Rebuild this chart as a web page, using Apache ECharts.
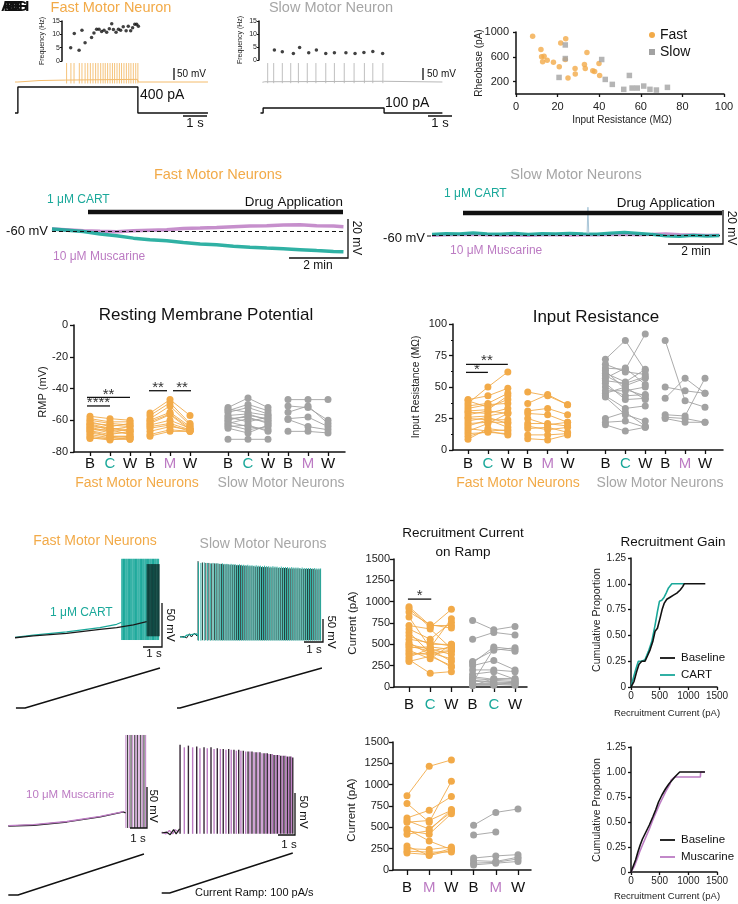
<!DOCTYPE html>
<html><head><meta charset="utf-8">
<script src="https://cdn.jsdelivr.net/npm/echarts@6/dist/echarts.min.js"></script>
<style>html,body{margin:0;padding:0;background:#fff}#c{width:738px;height:904px}</style>
</head><body><div id="c"></div>
<script>
// ================= DATA =================
// Step responses (time s, mV / pA / Hz)
const fastStepSpikeT = [2.15,2.33,2.46,2.68,2.79,2.92,3.03,3.14,3.25,3.36,3.46,3.57,3.67,3.76,3.86,3.96,4.06,4.15,4.25,4.35,4.44,4.54,4.64,4.74,4.83,4.93,5.03,5.12];
const fastStepBaseT = [0,0.12,0.2,1.0,2.1,5.1,5.14,8.04];
const fastStepBaseV = [-70,-70,-66,-64,-62,-59,-70,-70];
const fastStepCurT = [0,0.12,0.12,5.12,5.12,8.04];
const fastStepCurI = [0,0,400,400,0,0];
const fastFreqT = [2.32,2.47,2.67,2.79,2.92,3.19,3.29,3.40,3.50,3.61,3.71,3.82,3.93,4.03,4.10,4.21,4.31,4.40,4.51,4.63,4.72,4.82,4.90,4.99,5.07,5.14];
const fastFreqHz = [5,10.3,4,11.5,6.8,8.8,10.5,11.9,11.9,11.1,11.5,10.8,12.1,14,11.8,10.8,11.9,11.5,12.8,11.3,13,11.3,12.5,13.8,13.8,13];

const slowStepSpikeT = [0.22,0.47,0.83,1.18,1.50,1.87,2.23,2.64,3.00,3.41,3.82,4.25,4.60,5.02];
const slowStepBaseT = [0,0.03,0.1,5.05,5.1,7.5];
const slowStepBaseV = [-71,-71,-69,-67,-71,-70];
const slowStepCurT = [-0.08,0.03,0.03,5.07,5.07,7.5];
const slowStepCurI = [0,0,100,100,0,0];
const slowFreqT = [0.50,0.83,1.29,1.55,1.93,2.25,2.64,3.00,3.48,3.86,4.23,4.60,5.01];
const slowFreqHz = [3.8,3.2,2.5,4.8,2.8,3.8,2.5,2.8,2.8,2.5,2.9,3.3,2.5];

// Rheobase vs input resistance
const fastIR = [8,12,12.3,13.5,12.8,15,18,20.8,21.5,23.9,23.7,25,28.4,28.5,32.9,33.3,34.1,36.9,37.8,39.9,40.2];
const fastRheo = [930,717,600,610,519,545,513,439,823,893,556,257,412,321,476,412,668,374,364,492,299];
const slowIR = [20.7,23.7,23.7,41.2,42.9,46.3,51.8,54.5,55.8,58.3,61.4,64.4,67.5,72.8];
const slowRheo = [267,791,572,556,235,155,75,299,96,96,128,75,64,107];

// Drug application traces (min, mV)
const drugFastT = [0,1.06,1.63,2.19,2.76,3.32,3.89,4.45,5.02,5.58,6.15,6.71,7.28,7.84,8.41,8.97,9.54,9.88];
const drugFastCartV = [-58.6,-59.9,-61.2,-62.1,-63.3,-64.1,-64.6,-65.5,-66.3,-66.7,-67.5,-68.0,-68.4,-68.7,-69.2,-69.7,-70.1,-70.3];
const drugFastMuscV = [-58.6,-59.5,-59.8,-60.0,-59.5,-59.2,-59.0,-58.3,-58.1,-57.8,-57.4,-57.1,-56.9,-56.6,-56.4,-56.9,-57.1,-57.4];
const drugSlowT = [0,0.5,1,1.5,2,2.5,3,3.5,4,4.5,5,5.5,6,6.5,7,7.5,8,8.5,9,9.5,10,10.45];
const drugSlowCartV = [-59.5,-59,-59.2,-58.6,-59.1,-59.3,-58.9,-59.4,-59,-59.2,-58.8,-59.1,-59.3,-58.7,-58.3,-58.9,-59.5,-60.4,-60.6,-60.1,-60.5,-60.2];
const drugSlowMuscV = [-60,-59.7,-59.6,-59.4,-59.8,-59.9,-59.7,-60,-59.8,-59.6,-59.9,-59.7,-59.8,-59.6,-59.4,-59.7,-59.5,-59.2,-59.6,-59.8,-60,-59.9];
const drugSlowArtifactT = [5.64,5.67,5.70];
const drugSlowArtifactV = [-59,-43.5,-59];

// Ramp responses (s, mV) and ramp currents (s, pA)
const rampFastCartBlackT = [0,0.96,2.72,4.47,5.35,6.23,6.93];
const rampFastCartBlackV = [-71.7,-69.7,-66.7,-62.1,-60.3,-57.2,-53.5];
const rampFastCartTealT = [0,0.96,2.72,4.47,5.35,5.61];
const rampFastCartTealV = [-71.2,-68.8,-65.0,-60.3,-56.4,-54.1];
const rampFastCartTealSpikes = [5.62,5.67,5.71,5.76,5.80,5.85,5.89,5.94,5.98,6.03,6.07,6.12,6.16,6.21,6.25,6.30,6.34,6.39,6.43,6.48,6.52,6.57,6.61,6.66,6.70,6.75,6.79,6.84,6.88,6.93,6.97,7.02,7.06,7.11,7.15,7.20,7.24,7.29,7.33,7.38,7.42,7.47,7.51,7.56];
const rampFastCartBlackSpikes = [6.95,6.99,7.03,7.07,7.11,7.15,7.19,7.23,7.27,7.31,7.35,7.39,7.43,7.47,7.51,7.55,7.59];
const rampFastCartI = [[0.05,0],[0.53,0],[7.63,710]];

const rampSlowCartTealT = [0,0.2,0.35,0.45,0.6,0.7,0.85,0.95];
const rampSlowCartTealV = [-64,-66,-61,-65,-60,-64,-58,-62];
const rampSlowCartBlackT = [0,0.2,0.35,0.5,0.6,0.75,0.9];
const rampSlowCartBlackV = [-65,-64,-67,-58,-65,-57,-63];
const rampSlowCartTealSpikes = [0.97,1.10,1.28,1.45,1.60,1.74,1.88,2.00,2.12,2.24,2.36,2.47,2.58,2.69,2.80,2.91,3.02,3.13,3.24,3.35,3.46,3.57,3.68,3.79,3.90,4.01,4.12,4.23,4.34,4.45,4.56,4.67,4.78,4.89,5.00,5.11,5.22,5.33,5.44,5.55,5.66,5.77,5.88,5.99,6.10,6.21,6.32,6.43,6.54,6.65,6.76,6.87,6.98,7.09,7.20,7.31,7.40];
const rampSlowCartTealPeaks = [97,96,97,96,95,96,95,95,94,95,94,94,93,94,93,93,92,93,92,92,91,92,91,91,90,91,90,90,89,90,89,89,88,89,88,88,87,88,87,87,87,86,87,86,86,86,85,86,85,85,85,85,84,85,84,84,84];
const rampSlowCartBlackSpikes = [0.95,1.18,1.36,1.52,1.67,1.81,1.94,2.06,2.18,2.30,2.42,2.53,2.64,2.75,2.86,2.97,3.08,3.19,3.30,3.41,3.52,3.63,3.74,3.85,3.96,4.07,4.18,4.29,4.40,4.51,4.62,4.73,4.84,4.95,5.06,5.17,5.28,5.39,5.50,5.61,5.72,5.83,5.94,6.05,6.16,6.27,6.38,6.49,6.60,6.71,6.82,6.93,7.04,7.15,7.26,7.37];
const rampSlowCartBlackPeaks = [100,97,96,96,95,95,95,94,94,93,93,93,92,92,92,91,91,91,90,90,90,89,89,89,88,88,88,87,87,87,87,86,86,86,86,85,85,85,85,85,84,84,84,84,84,84,83,83,83,83,83,83,83,82,82,82];
const rampSlowCartI = [[-0.16,0],[0,0],[7.47,747]];

const rampFastMuscBlackT = [0,1.49,3.45,5.41,6.78,6.9];
const rampFastMuscBlackV = [-72,-71.1,-67.1,-61,-54.9,-56];
const rampFastMuscPurpleT = [0,1.49,3.45,5.41,6.78];
const rampFastMuscPurpleV = [-71.5,-70.3,-66.5,-60.3,-54.5];
const rampFastMuscPurpleSpikes = [6.92,7.12,7.32,7.51,7.69,7.88,8.08];
const rampFastMuscBlackSpikes = [7.02,7.22,7.44,7.59,7.79,7.98];
const rampFastMuscI = [[0,0],[0.57,0],[7.98,741]];

const rampSlowMuscBlackT = [0,0.3,0.5,0.7,0.85,1.05];
const rampSlowMuscBlackV = [-65,-64,-67,-61,-66,-60];
const rampSlowMuscPurpleT = [0,0.25,0.45,0.65,0.8,1.0];
const rampSlowMuscPurpleV = [-64,-66,-62,-66,-61,-64];
const rampSlowMuscBlackSpikes = [1.08,1.57,2.06,2.49,2.90,3.27,3.62,3.94,4.25,4.53,4.80,5.08,5.31,5.55,5.78,6.02,6.21,6.41,6.61,6.80,7.00,7.19,7.39,7.55,7.71];
const rampSlowMuscBlackPeaks = [40,39,38,37,37,36,35,35,34,34,33,32,32,31,31,30,30,29,28,28,27,27,26,26,25];
const rampSlowMuscPurpleSpikes = [1.33,1.82,2.25,2.68,3.08,3.45,3.78,4.09,4.39,4.66,4.94,5.19,5.43,5.66,5.90,6.12,6.31,6.51,6.71,6.90,7.09,7.29,7.47,7.62];
const rampSlowMuscPurplePeaks = [37,37,36,36,35,35,34,34,33,33,32,32,31,31,30,30,29,29,28,28,27,27,26,26];
const rampSlowMuscI = [[0,0],[0.47,0],[7.71,724]];

// Paired cell data
const rmpFastCartB = [-57.5,-59,-60,-61,-62,-62.5,-63,-64,-64.5,-65,-66,-66.5,-67,-68,-69,-70,-71,-71.5];
const rmpFastCartC = [-59,-61,-62,-64,-63,-65,-66,-65,-67,-68,-66,-69,-70,-70,-71,-72,-72.5,-71];
const rmpFastCartW = [-60,-61,-63,-62,-64,-66,-64,-67,-66,-68,-69,-67,-70,-71,-70,-72,-71,-72];
const rmpFastMuscB = [-55.5,-57,-59,-60,-61,-62,-63,-64,-65,-67,-69,-70];
const rmpFastMuscM = [-47,-49,-51,-55,-56,-56.5,-60,-62,-63,-64,-66,-67];
const rmpFastMuscW = [-57,-62,-63,-64,-65,-66,-65,-66,-67,-66,-67,-67];
const rmpSlowCartB = [-52,-53,-54,-55,-57,-58,-59,-60,-61,-62,-63,-64,-65,-72];
const rmpSlowCartC = [-46,-55,-50,-52,-56,-61,-58,-57,-64,-59,-66,-63,-68,-72];
const rmpSlowCartW = [-52,-57,-54,-56,-60,-58,-62,-59,-66,-61,-64,-67,-63,-72];
const rmpSlowMuscB = [-47,-51,-55,-59,-59.5,-67];
const rmpSlowMuscM = [-47,-52,-51,-58,-64,-67];
const rmpSlowMuscW = [-47,-60,-62,-64,-66,-68];

const irFastCartB = [40,39,37,35,33,31,30,28,26,25,23,21,19,17,15,13,11,8.5];
const irFastCartC = [43,34,50,37,36,32,29,31,27,24,26,22,24,15,21,14,15,17];
const irFastCartW = [49,40,62,45,37,43,33,29,30,24,21,22,18,16,29,13,12,15];
const irFastMuscB = [46,37,31,29,25,21,19,17,12,9];
const irFastMuscM = [43,44,33,28,20,21,16,18,12,8];
const irFastMuscW = [36,36,28,22,22,19,18,14,13,12];
const irSlowCartB = [72,68,65,63,61,59,57,55,53,50,47,45,43,42,25,22,20];
const irSlowCartC = [87,62,64,48,54,51,65,53,40,43,47,50,33,28,30,23,15];
const irSlowCartW = [63,60,92,43,64,57,52,58,41,44,50,40,35,23,19,18,18];
const irSlowMuscB = [87,50,41,28,26,25];
const irSlowMuscM = [39,47,57,27,25,22];
const irSlowMuscW = [34,45,45,57,22,22];

const rcFastCartB = [940,920,880,820,720,680,640,600,560,520,500,480,460,430,400,380,350,320,300];
const rcFastCartC = [720,700,730,460,680,560,400,500,520,380,440,420,470,330,380,400,450,160,360];
const rcFastCartW = [720,910,690,800,450,760,430,500,480,420,300,470,440,500,230,330,380,180,250];
const rcSlowCartB = [780,560,300,280,250,200,150,120,100,80,70,50,40,30,20,15];
const rcSlowCartC = [670,640,430,470,310,200,180,90,80,60,50,450,40,30,20,100];
const rcSlowCartW = [710,610,460,440,200,180,90,80,60,50,40,420,30,20,60,100];
const rcFastMuscB = [870,780,610,580,560,480,460,420,280,250,220,200];
const rcFastMuscM = [1215,560,700,480,580,340,420,460,170,240,210,180];
const rcFastMuscW = [1290,1040,860,680,700,240,660,710,230,270,210,250];
const rcSlowMuscB = [525,410,140,110,80,60];
const rcSlowMuscM = [675,445,165,100,90,80];
const rcSlowMuscW = [715,null,180,150,130,100];

// Cumulative distributions (pA, proportion)
const gainCartBaseline = [[0,0],[53,0.055],[99,0.15],[140,0.22],[187,0.25],[245,0.25],[286,0.30],[333,0.36],[380,0.44],[420,0.54],[461,0.57],[508,0.67],[543,0.75],[578,0.81],[625,0.85],[683,0.87],[741,0.89],[800,0.91],[858,0.94],[905,0.975],[928,1],[1296,1]];
const gainCart = [[0,0],[41,0.087],[88,0.18],[128,0.25],[187,0.25],[245,0.265],[304,0.345],[362,0.44],[420,0.6],[461,0.73],[496,0.83],[537,0.84],[578,0.87],[613,0.91],[654,0.96],[712,1],[928,1]];
const gainMuscBaseline = [[0,0],[40,0.06],[80,0.12],[120,0.2],[160,0.27],[200,0.33],[260,0.4],[320,0.47],[380,0.55],[430,0.62],[480,0.7],[540,0.77],[600,0.83],[660,0.88],[720,0.92],[780,0.96],[850,1],[1290,1]];
const gainMusc = [[0,0],[60,0.06],[100,0.12],[150,0.2],[200,0.27],[260,0.35],[320,0.43],[380,0.52],[440,0.6],[500,0.68],[560,0.75],[620,0.82],[680,0.88],[700,0.92],[760,0.95],[1210,0.95],[1215,1],[1290,1]];

// Tick labels
const labRMP = ['B','C','W','B','M','W','B','C','W','B','M','W'];
const labRC1 = ['B','C','W','B','C','W'];
const labRC2 = ['B','M','W','B','M','W'];

// ================= LAYOUT / STYLE =================
const FONT = '"Liberation Sans", Arial, Helvetica, sans-serif';
const ORANGE = '#F2AA48', TEAL = '#1AA89A', PURPLE = '#BC7BC3', GRAY = '#A6A6A6', GRAYDOT = '#A2A2A2', INK = '#111111';
const POS12 = [0,1,2,3,4,5,6.9,7.9,8.9,9.9,10.9,11.9];
const POS6 = [0,1,2,3,4,5];

const grids = [], xAxes = [], yAxes = [], series = [], G = [];
const zip = (a, b) => a.map((v, i) => [v, b[i]]);

function addGrid(g) {
  grids.push({left: g.left, top: g.top, width: g.width, height: g.height, containLabel: false, outerBoundsMode: 'none'});
  return grids.length - 1;
}
function traceGeom(l, r, x0, pxX, t, b, refPx, refV, pxY) {
  return {left: l, top: t, width: r - l, height: b - t,
    xmin: (l - x0) / pxX, xmax: (r - x0) / pxX,
    ymax: refV + (refPx - t) / pxY, ymin: refV - (b - refPx) / pxY};
}
function hiddenPanel(g) {
  const i = addGrid(g);
  xAxes.push({type: 'value', gridIndex: i, min: g.xmin, max: g.xmax, show: false, splitLine: {show: false}});
  yAxes.push({type: 'value', gridIndex: i, min: g.ymin, max: g.ymax, show: false, splitLine: {show: false}});
  return i;
}
function lineS(p, data, color, width, extra) {
  return Object.assign({type: 'line', xAxisIndex: p, yAxisIndex: p, data: data, symbol: 'none',
    lineStyle: {color: color, width: width}, itemStyle: {color: color}, silent: true, animation: false}, extra || {});
}
function spikes(p, times, peak, trough, color, width, opacity) {
  const data = times.map((t, i) => [t, Array.isArray(peak) ? peak[i] : peak]);
  return {type: 'custom', xAxisIndex: p, yAxisIndex: p, data: data, silent: true, animation: false,
    renderItem: function (params, api) {
      const a = api.coord([api.value(0), trough]);
      const b = api.coord([api.value(0), api.value(1)]);
      return {type: 'line', shape: {x1: a[0], y1: a[1], x2: b[0], y2: b[1]},
        style: {stroke: color, lineWidth: width, opacity: opacity}};
    }};
}
const axLine = {show: true, onZero: false, lineStyle: {color: INK, width: 1.5}};
function valueAxis(i, opt) {
  const o = Object.assign({type: 'value', gridIndex: i, axisLine: axLine,
    axisTick: {show: true, length: 4, lineStyle: {color: INK, width: 1.3}},
    splitLine: {show: false}}, opt);
  o.axisLabel = Object.assign({color: '#222', fontSize: 11, margin: 5, fontFamily: FONT, formatter: v => String(v)}, opt.axisLabel || {});
  return o;
}
const richCat = {
  k: {color: INK, fontSize: 15, fontFamily: FONT},
  c: {color: TEAL, fontSize: 15, fontFamily: FONT},
  m: {color: PURPLE, fontSize: 15, fontFamily: FONT}
};
function catPanel(left, right, top, bottom, firstPx, lastPx, pos, labs, margin, tickLen, yOpt) {
  const unit = (lastPx - firstPx) / pos[pos.length - 1];
  const i = addGrid({left: left, top: top, width: right - left, height: bottom - top});
  xAxes.push({type: 'value', gridIndex: i, min: (left - firstPx) / unit, max: (right - firstPx) / unit,
    axisLine: axLine,
    axisTick: {show: true, customValues: pos, length: tickLen, lineStyle: {color: INK, width: 1.3}},
    axisLabel: {show: true, customValues: pos, margin: margin, rich: richCat,
      formatter: function (v) {
        let best = 0, bd = 1e9;
        pos.forEach((p, j) => { const d = Math.abs(p - v); if (d < bd) { bd = d; best = j; } });
        const l = labs[best];
        return '{' + (l === 'C' ? 'c' : (l === 'M' ? 'm' : 'k')) + '|' + l + '}';
      }},
    splitLine: {show: false}});
  yAxes.push(valueAxis(i, yOpt));
  return i;
}
function paired(p, positions, arrays, color) {
  const n = arrays[0].length;
  for (let c = 0; c < n; c++) {
    const pts = [];
    arrays.forEach((arr, k) => { if (arr[c] != null) pts.push([positions[k], arr[c]]); });
    series.push({type: 'line', xAxisIndex: p, yAxisIndex: p, data: pts, symbol: 'circle', symbolSize: 7,
      showSymbol: true, itemStyle: {color: color}, lineStyle: {color: color, width: 0.9},
      silent: true, animation: false, z: 3});
  }
}
function sigBars(p, ann, size) {
  series.push({type: 'custom', xAxisIndex: p, yAxisIndex: p, silent: true, animation: false, z: 6,
    data: ann.map(a => [a[0], a[2]]),
    renderItem: function (params, api) {
      const a = ann[params.dataIndex];
      const p1 = api.coord([a[0], a[2]]), p2 = api.coord([a[1], a[2]]);
      return {type: 'group', children: [
        {type: 'line', shape: {x1: p1[0], y1: p1[1], x2: p2[0], y2: p2[1]}, style: {stroke: INK, lineWidth: 1.3}},
        {type: 'text', x: (p1[0] + p2[0]) / 2, y: p1[1] - 3,
          style: {text: a[3], fontSize: size, fontFamily: FONT, fill: '#333', align: 'center', verticalAlign: 'middle'}}
      ]};
    }});
}
function txt(x, y, text, size, color, align, vAlign, rot, weight) {
  G.push({type: 'text', x: x, y: y, rotation: rot || 0, silent: true, z: 100,
    style: {text: text, fontSize: size, fontFamily: FONT, fill: color || INK, align: align || 'left',
      verticalAlign: vAlign || 'middle', fontWeight: weight || 'normal'}});
}
function seg(points, width, color) {
  G.push({type: 'polyline', shape: {points: points}, silent: true, z: 100,
    style: {stroke: color || INK, lineWidth: width || 1.3, fill: null}});
}
const ROT_DOWN = -Math.PI / 2, ROT_UP = Math.PI / 2;

// ================= PANELS =================
// --- Fast step ---
const pFS = hiddenPanel(traceGeom(15, 210, 15, 24, 56, 88, 82, -70, 0.24));
series.push(lineS(pFS, zip(fastStepBaseT, fastStepBaseV), '#F4BC6C', 1));
series.push(spikes(pFS, fastStepSpikeT, 9, -76, '#F4BC6C', 0.9, 1));
const pFSI = hiddenPanel(traceGeom(15, 210, 15, 24, 83, 117, 113, 0, 0.065));
series.push(lineS(pFSI, zip(fastStepCurT, fastStepCurI), INK, 1.4));
const gFF = traceGeom(62, 140, 15, 24, 21, 61, 61, 0, 40 / 15);
const pFF = addGrid(gFF);
xAxes.push({type: 'value', gridIndex: pFF, min: gFF.xmin, max: gFF.xmax, show: false});
yAxes.push(valueAxis(pFF, {min: 0, max: 15, interval: 5, axisTick: {show: true, length: 2, lineStyle: {color: INK, width: 1.2}},
  axisLabel: {fontSize: 7, margin: 2}}));
series.push({type: 'scatter', xAxisIndex: pFF, yAxisIndex: pFF, data: zip(fastFreqT, fastFreqHz), symbolSize: 3.5, itemStyle: {color: INK}, silent: true});

// --- Slow step ---
const pSS = hiddenPanel(traceGeom(260, 445, 262.4, 24, 56, 88, 82, -70, 0.24));
series.push(lineS(pSS, zip(slowStepBaseT, slowStepBaseV), '#B8B8B8', 1));
series.push(spikes(pSS, slowStepSpikeT, 9, -75, '#B8B8B8', 0.9, 1));
const pSSI = hiddenPanel(traceGeom(260, 445, 262.4, 24, 98, 117, 113, 0, 0.05));
series.push(lineS(pSSI, zip(slowStepCurT, slowStepCurI), INK, 1.4));
const gSF = traceGeom(259, 389, 262.4, 24, 21, 60, 60, 0, 39 / 15);
const pSF = addGrid(gSF);
xAxes.push({type: 'value', gridIndex: pSF, min: gSF.xmin, max: gSF.xmax, show: false});
yAxes.push(valueAxis(pSF, {min: 0, max: 15, interval: 5, axisTick: {show: true, length: 2, lineStyle: {color: INK, width: 1.2}},
  axisLabel: {fontSize: 7, margin: 2}}));
series.push({type: 'scatter', xAxisIndex: pSF, yAxisIndex: pSF, data: zip(slowFreqT, slowFreqHz), symbolSize: 3.5, itemStyle: {color: INK}, silent: true});

// --- Rheobase scatter ---
const pSC = addGrid({left: 516, top: 32, width: 208, height: 62});
xAxes.push(valueAxis(pSC, {min: 0, max: 100, interval: 20, axisTick: {show: true, length: 3, lineStyle: {color: INK, width: 1.3}},
  axisLabel: {fontSize: 11, margin: 7}}));
yAxes.push(valueAxis(pSC, {min: 0, max: 1000,
  axisTick: {show: true, length: 3, customValues: [200, 600, 1000], lineStyle: {color: INK, width: 1.3}},
  axisLabel: {fontSize: 11, margin: 7, customValues: [200, 600, 1000]}}));
series.push({type: 'scatter', xAxisIndex: pSC, yAxisIndex: pSC, data: zip(fastIR, fastRheo), symbol: 'circle', symbolSize: 5.5, itemStyle: {color: ORANGE}, silent: true});
series.push({type: 'scatter', xAxisIndex: pSC, yAxisIndex: pSC, data: zip(slowIR, slowRheo), symbol: 'rect', symbolSize: 5.5, itemStyle: {color: GRAYDOT}, silent: true});

// --- Drug application traces ---
const pDF = hiddenPanel(traceGeom(52, 345, 52, 29.5, 200, 265, 231.7, -60, 1.95));
series.push(lineS(pDF, zip(drugFastT, drugFastMuscV), PURPLE, 3.5, {lineStyle: {color: PURPLE, width: 3.5, opacity: 0.85}}));
series.push(lineS(pDF, zip(drugFastT, drugFastCartV), TEAL, 3.5, {lineStyle: {color: TEAL, width: 3.5, opacity: 0.9}}));
series.push(lineS(pDF, [], INK, 1, {z: 5, markLine: {silent: true, symbol: 'none', animation: false, label: {show: false},
  lineStyle: {type: [4, 3], color: INK, width: 1.2}, data: [{yAxis: -60}]}}));
const pDS = hiddenPanel(traceGeom(432, 720, 432, 27.5, 200, 252, 235.3, -60, 1.7));
series.push(lineS(pDS, zip(drugSlowT, drugSlowMuscV), PURPLE, 3.2, {lineStyle: {color: PURPLE, width: 3.2, opacity: 0.85}}));
series.push(lineS(pDS, zip(drugSlowT, drugSlowCartV), TEAL, 3.2, {lineStyle: {color: TEAL, width: 3.2, opacity: 0.9}}));
series.push(lineS(pDS, zip(drugSlowArtifactT, drugSlowArtifactV), '#A9C6D8', 1));
series.push(lineS(pDS, [], INK, 1, {z: 5, markLine: {silent: true, symbol: 'none', animation: false, label: {show: false},
  lineStyle: {type: [4, 3], color: INK, width: 1.2}, data: [{yAxis: -60}]}}));

// --- RMP ---
const pRMP = catPanel(74, 345, 325, 452, 90, 328, POS12, labRMP, 4, 4, {min: -80, max: 0, interval: 20, axisLabel: {fontSize: 11, margin: 6}});
paired(pRMP, POS12.slice(0, 3), [rmpFastCartB, rmpFastCartC, rmpFastCartW], ORANGE);
paired(pRMP, POS12.slice(3, 6), [rmpFastMuscB, rmpFastMuscM, rmpFastMuscW], ORANGE);
paired(pRMP, POS12.slice(6, 9), [rmpSlowCartB, rmpSlowCartC, rmpSlowCartW], GRAYDOT);
paired(pRMP, POS12.slice(9, 12), [rmpSlowMuscB, rmpSlowMuscM, rmpSlowMuscW], GRAYDOT);
sigBars(pRMP, [[-0.15, 1, -51, '****'], [-0.15, 2, -45.6, '**'], [2.95, 3.85, -41.4, '**'], [4.15, 5.05, -41.4, '**']], 15);

// --- Input resistance ---
const pIR = catPanel(453, 723, 324, 450, 468, 705, POS12, labRMP, 6, 4, {min: 0, max: 100, interval: 25,
  minorTick: {show: true, splitNumber: 2, length: 2, lineStyle: {color: INK, width: 1.2}},
  axisLabel: {fontSize: 11, margin: 6}});
paired(pIR, POS12.slice(0, 3), [irFastCartB, irFastCartC, irFastCartW], ORANGE);
paired(pIR, POS12.slice(3, 6), [irFastMuscB, irFastMuscM, irFastMuscW], ORANGE);
paired(pIR, POS12.slice(6, 9), [irSlowCartB, irSlowCartC, irSlowCartW], GRAYDOT);
paired(pIR, POS12.slice(9, 12), [irSlowMuscB, irSlowMuscM, irSlowMuscW], GRAYDOT);
sigBars(pIR, [[-0.1, 1, 61.6, '*'], [-0.1, 2, 68, '**']], 15);

// --- Ramp traces ---
const pRFC = hiddenPanel(traceGeom(12, 162, 15, 19, 552, 652, 638, -72, 0.88));
series.push(lineS(pRFC, zip(rampFastCartTealT, rampFastCartTealV), TEAL, 1.3));
series.push(spikes(pRFC, rampFastCartTealSpikes, 18, -74.3, TEAL, 1, 1));
series.push(lineS(pRFC, zip(rampFastCartBlackT, rampFastCartBlackV), '#1a1a1a', 1.3));
series.push(spikes(pRFC, rampFastCartBlackSpikes, 12, -70, '#0d2e2a', 1, 0.8));
const pRFCI = hiddenPanel(traceGeom(12, 162, 15, 19, 662, 712, 708, 0, 0.0563));
series.push(lineS(pRFCI, rampFastCartI, INK, 1.4));

const pRSC = hiddenPanel(traceGeom(175, 326, 180, 19, 552, 655, 637, -65, 0.46));
series.push(lineS(pRSC, zip(rampSlowCartBlackT, rampSlowCartBlackV), '#1a1a1a', 1));
series.push(spikes(pRSC, rampSlowCartBlackSpikes, rampSlowCartBlackPeaks, -72, '#15332f', 1, 0.95));
series.push(lineS(pRSC, zip(rampSlowCartTealT, rampSlowCartTealV), TEAL, 1.2));
series.push(spikes(pRSC, rampSlowCartTealSpikes, rampSlowCartTealPeaks, -73, TEAL, 1, 0.9));
const pRSCI = hiddenPanel(traceGeom(175, 326, 180, 19, 662, 712, 708, 0, 0.0535));
series.push(lineS(pRSCI, rampSlowCartI, INK, 1.4));

const pRFM = hiddenPanel(traceGeom(5, 150, 8.3, 17, 728, 838, 826, -72, 0.82));
series.push(lineS(pRFM, zip(rampFastMuscBlackT, rampFastMuscBlackV), '#1a1a1a', 1.3));
series.push(lineS(pRFM, zip(rampFastMuscPurpleT, rampFastMuscPurpleV), PURPLE, 1.3));
series.push(spikes(pRFM, rampFastMuscBlackSpikes, 39, -74.4, '#2a2a2a', 1, 1));
series.push(spikes(pRFM, rampFastMuscPurpleSpikes, 39, -74.4, PURPLE, 1, 1));
const pRFMI = hiddenPanel(traceGeom(5, 150, 8.3, 17, 850, 899, 895, 0, 0.0553));
series.push(lineS(pRFMI, rampFastMuscI, INK, 1.4));

const pRSM = hiddenPanel(traceGeom(158, 298, 161.7, 17, 738, 842, 833, -65, 0.84));
series.push(lineS(pRSM, zip(rampSlowMuscPurpleT, rampSlowMuscPurpleV), PURPLE, 1.2));
series.push(spikes(pRSM, rampSlowMuscPurpleSpikes, rampSlowMuscPurplePeaks, -66, PURPLE, 1.4, 1));
series.push(lineS(pRSM, zip(rampSlowMuscBlackT, rampSlowMuscBlackV), '#1a1a1a', 1.2));
series.push(spikes(pRSM, rampSlowMuscBlackSpikes, rampSlowMuscBlackPeaks, -66, '#2a1a2a', 1.4, 0.95));
const pRSMI = hiddenPanel(traceGeom(158, 298, 161.7, 17, 848, 897, 893, 0, 0.0552));
series.push(lineS(pRSMI, rampSlowMuscI, INK, 1.4));

// --- Recruitment current ---
const rcY = {min: 0, max: 1500, interval: 250, axisLabel: {fontSize: 11, margin: 4}};
const pRC1 = catPanel(394, 527, 559, 687, 409, 515, POS6, labRC1, 10, 5, rcY);
paired(pRC1, POS6.slice(0, 3), [rcFastCartB, rcFastCartC, rcFastCartW], ORANGE);
paired(pRC1, POS6.slice(3, 6), [rcSlowCartB, rcSlowCartC, rcSlowCartW], GRAYDOT);
sigBars(pRC1, [[-0.05, 1.05, 1030, '*']], 15);
const pRC2 = catPanel(393, 531, 742, 870, 407, 518, POS6, labRC2, 10, 5, rcY);
paired(pRC2, POS6.slice(0, 3), [rcFastMuscB, rcFastMuscM, rcFastMuscW], ORANGE);
paired(pRC2, POS6.slice(3, 6), [rcSlowMuscB, rcSlowMuscM, rcSlowMuscW], GRAYDOT);

// --- Recruitment gain ---
function gainPanel(top, height, a, b, colA, colB) {
  const i = addGrid({left: 631, top: top, width: 86, height: height});
  xAxes.push(valueAxis(i, {min: 0, max: 1500, interval: 500, axisTick: {show: true, length: 3, lineStyle: {color: INK, width: 1.3}},
    axisLabel: {fontSize: 10, margin: 4}}));
  yAxes.push(valueAxis(i, {min: 0, max: 1.25, interval: 0.25, axisTick: {show: true, length: 3, lineStyle: {color: INK, width: 1.3}},
    axisLabel: {fontSize: 10, margin: 5, formatter: v => v === 0 ? '0' : v.toFixed(2)}}));
  series.push(lineS(i, b, colB, 1.6));
  series.push(lineS(i, a, colA, 1.6));
  return i;
}
gainPanel(558, 129, gainCartBaseline, gainCart, INK, TEAL);
gainPanel(747, 125, gainMuscBaseline, gainMusc, INK, PURPLE);

// ================= ANNOTATIONS (pixel layout) =================
['A','B','C','D','E','F','G','H'].forEach((l, k) => txt(1 + k * 2.5, 7, l, 15, INK, 'left', 'middle', 0, 'bold'));
// row 1
txt(111, 8, 'Fast Motor Neuron', 14.5, ORANGE, 'center');
txt(331, 8, 'Slow Motor Neuron', 14.5, GRAY, 'center');
txt(42, 41, 'Frequency (Hz)', 7, '#222', 'center', 'middle', ROT_UP);
txt(240, 40, 'Frequency (Hz)', 7, '#222', 'center', 'middle', ROT_UP);
seg([[174, 68], [174, 80]], 1.3); txt(177, 74, '50 mV', 10);
seg([[423, 68], [423, 80]], 1.3); txt(427, 74, '50 mV', 10);
txt(140, 95, '400 pA', 14); txt(385, 103, '100 pA', 14);
seg([[183, 116], [207, 116]], 1.5); txt(195, 123, '1 s', 13, INK, 'center');
seg([[428, 116], [452, 116]], 1.5); txt(440, 123, '1 s', 13, INK, 'center');
txt(479, 63, 'Rheobase (pA)', 10, '#222', 'center', 'middle', ROT_UP);
txt(622, 120, 'Input Resistance (MΩ)', 10, '#222', 'center');
G.push({type: 'circle', shape: {cx: 652, cy: 35, r: 3}, style: {fill: ORANGE}, silent: true, z: 100});
txt(660, 35, 'Fast', 14);
G.push({type: 'rect', shape: {x: 649, y: 49, width: 6, height: 6}, style: {fill: GRAYDOT}, silent: true, z: 100});
txt(660, 52, 'Slow', 14);
// row 2
txt(218, 175, 'Fast Motor Neurons', 14.5, ORANGE, 'center');
txt(576, 175, 'Slow Motor Neurons', 14.5, GRAY, 'center');
txt(47, 200, '1 μM CART', 12, TEAL);
txt(444, 194, '1 μM CART', 12, TEAL);
txt(343, 202, 'Drug Application', 13.4, INK, 'right');
txt(715, 203, 'Drug Application', 13.4, INK, 'right');
seg([[88, 212], [343, 212]], 4.5); seg([[463, 213], [722, 213]], 4.5);
txt(48, 231, '-60 mV', 13, INK, 'right');
txt(425, 238, '-60 mV', 13, INK, 'right'); seg([[427, 236], [431, 236]], 1);
txt(53, 257, '10 μM Muscarine', 12, PURPLE);
txt(450, 251, '10 μM Muscarine', 12, PURPLE);
seg([[289, 258], [348, 258], [348, 219]], 1.3); txt(356, 238, '20 mV', 12, INK, 'center', 'middle', ROT_DOWN); txt(318, 266, '2 min', 12, INK, 'center');
seg([[668, 244], [723, 244], [723, 210]], 1.3); txt(731, 228, '20 mV', 12, INK, 'center', 'middle', ROT_DOWN); txt(696, 252, '2 min', 12, INK, 'center');
// row 3
txt(206, 315, 'Resting Membrane Potential', 17, INK, 'center');
txt(596, 317, 'Input Resistance', 17, INK, 'center');
txt(43, 392, 'RMP (mV)', 11, '#222', 'center', 'middle', ROT_UP);
txt(416, 387, 'Input Resistance (MΩ)', 10.3, '#222', 'center', 'middle', ROT_UP);
txt(137, 483, 'Fast Motor Neurons', 14, ORANGE, 'center'); txt(281, 483, 'Slow Motor Neurons', 14, GRAY, 'center');
txt(518, 483, 'Fast Motor Neurons', 14, ORANGE, 'center'); txt(660, 483, 'Slow Motor Neurons', 14, GRAY, 'center');
// row 4
txt(95, 541, 'Fast Motor Neurons', 14, ORANGE, 'center');
txt(263, 544, 'Slow Motor Neurons', 14, GRAY, 'center');
txt(50, 613, '1 μM CART', 12, TEAL);
seg([[143, 647], [162, 647], [162, 603]], 1.3); txt(170, 625, '50 mV', 11.5, INK, 'center', 'middle', ROT_DOWN); txt(154, 654, '1 s', 11.5, INK, 'center');
seg([[304, 642], [323, 642], [323, 619]], 1.3); txt(331, 632, '50 mV', 11.5, INK, 'center', 'middle', ROT_DOWN); txt(314, 650, '1 s', 11.5, INK, 'center');
txt(463, 533, 'Recruitment Current', 13.5, INK, 'center'); txt(463, 552, 'on Ramp', 13.5, INK, 'center');
txt(353, 623, 'Current (pA)', 11.5, '#222', 'center', 'middle', ROT_UP);
txt(673, 542, 'Recruitment Gain', 13.5, INK, 'center');
txt(597, 620, 'Cumulative Proportion', 10.5, '#222', 'center', 'middle', ROT_UP);
txt(667, 713, 'Recruitment Current (pA)', 9.5, '#222', 'center');
seg([[660, 658], [675, 658]], 1.8, INK); txt(681, 658, 'Baseline', 11.5);
seg([[660, 675], [675, 675]], 1.8, TEAL); txt(681, 675, 'CART', 11.5);
// row 5
txt(26, 795, '10 μM Muscarine', 11.5, PURPLE);
seg([[130, 828], [147, 828], [147, 787]], 1.3); txt(153, 806, '50 mV', 11.5, INK, 'center', 'middle', ROT_DOWN); txt(138, 839, '1 s', 11.5, INK, 'center');
seg([[278, 835], [295, 835], [295, 793]], 1.3); txt(303, 812, '50 mV', 11.5, INK, 'center', 'middle', ROT_DOWN); txt(289, 845, '1 s', 11.5, INK, 'center');
txt(195, 893, 'Current Ramp: 100 pA/s', 11);
txt(352, 810, 'Current (pA)', 11.5, '#222', 'center', 'middle', ROT_UP);
txt(597, 810, 'Cumulative Proportion', 10.5, '#222', 'center', 'middle', ROT_UP);
txt(667, 896, 'Recruitment Current (pA)', 9.5, '#222', 'center');
seg([[660, 840], [675, 840]], 1.8, INK); txt(681, 840, 'Baseline', 11.5);
seg([[660, 857], [675, 857]], 1.8, PURPLE); txt(681, 857, 'Muscarine', 11.5);

const chart = echarts.init(document.getElementById('c'), null, {renderer: 'canvas'});
chart.setOption({animation: false, backgroundColor: '#fff', textStyle: {fontFamily: FONT},
  grid: grids, xAxis: xAxes, yAxis: yAxes, series: series, graphic: G});
</script></body></html>
